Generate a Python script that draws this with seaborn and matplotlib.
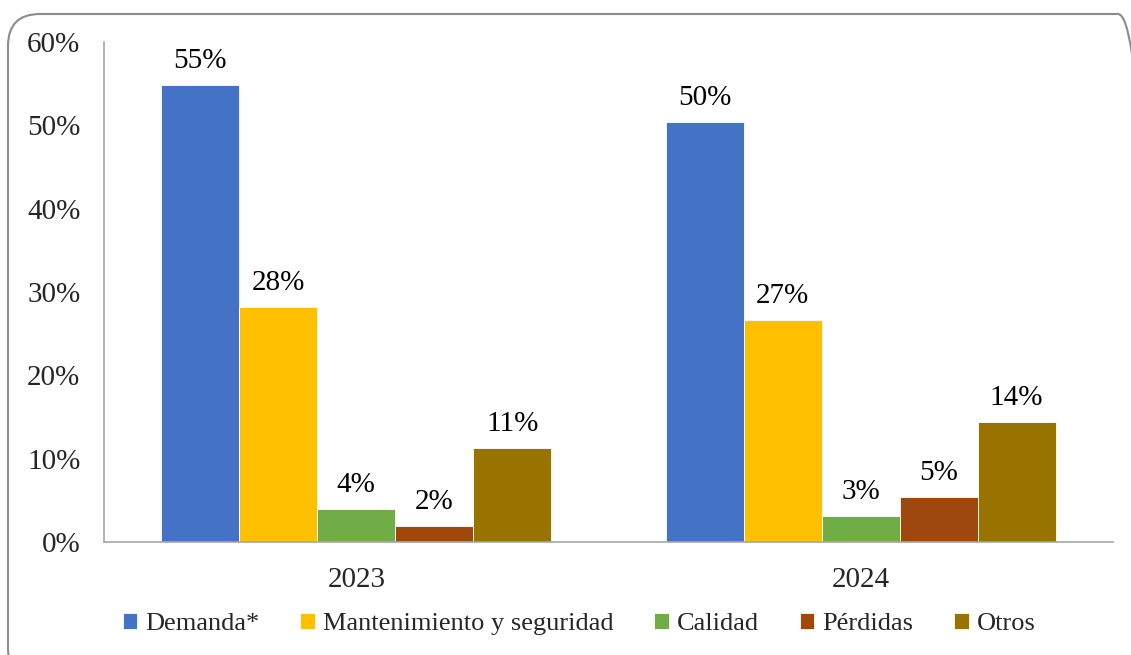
import matplotlib
matplotlib.use("Agg")
import matplotlib.pyplot as plt
import matplotlib.patches as mpatches
from matplotlib.transforms import IdentityTransform
import seaborn as sns
import pandas as pd

# Share of investment by driver, per year (%)
years = ["2023", "2024"]
categories = ["Demanda*", "Mantenimiento y seguridad", "Calidad", "Pérdidas", "Otros"]
demanda = [54.8, 50.4]
mantenimiento = [28.2, 26.6]
calidad = [4.0, 3.1]
perdidas = [1.9, 5.4]
otros = [11.3, 14.4]
yticks = [0, 10, 20, 30, 40, 50, 60]

colors = ["#4472C4", "#FFC000", "#70AD47", "#9E480E", "#997300"]

series = [demanda, mantenimiento, calidad, perdidas, otros]
rows = []
for cat, vals in zip(categories, series):
    for yr, v in zip(years, vals):
        rows.append({"Año": yr, "Categoría": cat, "Valor": v})
df = pd.DataFrame(rows)

sns.set_style("white")
plt.rcParams["font.family"] = ["Liberation Serif", "DejaVu Serif"]

fig = plt.figure(figsize=(11.31, 6.55), dpi=100)
ax = fig.add_axes([0.092, 0.1725, 0.892, 0.7635])

sns.barplot(data=df, x="Año", y="Valor", hue="Categoría", order=years,
            hue_order=categories, palette=colors, saturation=1, width=0.773,
            edgecolor="white", linewidth=0.6, errorbar=None, ax=ax, legend=True)

for cont, vals in zip(ax.containers, series):
    ax.bar_label(cont, labels=[f"{v:.0f}%" for v in vals], padding=8,
                 fontsize=21, color="black")

ax.set_ylim(0, 60)
ax.set_xlim(-0.5, 1.5)
ax.set_yticks(yticks)
ax.set_yticklabels([f"{t}%" for t in yticks])
ax.tick_params(axis="y", length=0, pad=17, labelsize=21)
ax.tick_params(axis="x", length=0, pad=18, labelsize=21)
ax.set_xlabel("")
ax.set_ylabel("")
for side in ["top", "right"]:
    ax.spines[side].set_visible(False)
for side in ["left", "bottom"]:
    ax.spines[side].set_color("#A6A6A6")
    ax.spines[side].set_linewidth(1.2)

handles, labels = ax.get_legend_handles_labels()
ax.get_legend().remove()
fig.legend(handles, labels, loc="center", bbox_to_anchor=(0.512, 0.047),
           ncol=5, frameon=False, fontsize=19, handlelength=0.55,
           handleheight=0.55, handletextpad=0.3, columnspacing=1.55)

# Rounded chart-area border
border = mpatches.FancyBboxPatch((8, -25), 1142, 666,
                                 boxstyle="round,pad=0,rounding_size=32",
                                 transform=IdentityTransform(), fill=False,
                                 ec="#8C8C8C", lw=1.5)
fig.add_artist(border)

fig.savefig("out.png", dpi=100)
